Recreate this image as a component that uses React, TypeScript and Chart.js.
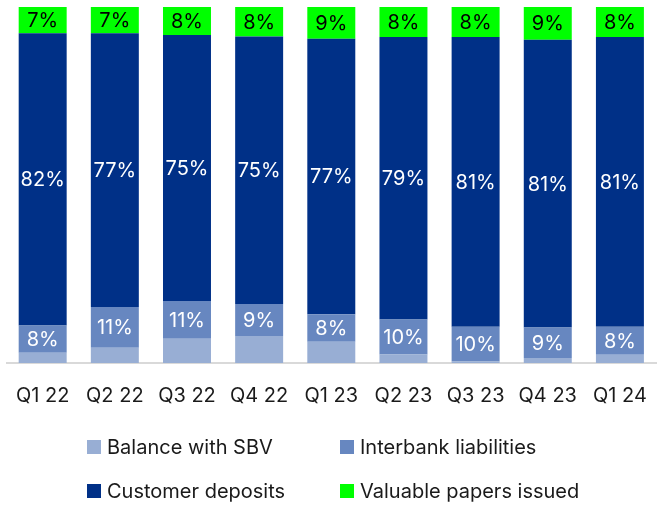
import React, { useEffect, useRef } from "react";
import { Chart, registerables } from "chart.js";

Chart.register(...registerables);

const categories = ["Q1 22", "Q2 22", "Q3 22", "Q4 22", "Q1 23", "Q2 23", "Q3 23", "Q4 23", "Q1 24"];
const balanceWithSBV = [2.9, 4.3, 6.8, 7.6, 6.0, 2.4, 0.4, 1.4, 2.3];
const interbankLiabilities = [7.6, 11.4, 10.6, 9.0, 7.7, 9.8, 9.8, 8.6, 7.9];
const customerDeposits = [82.1, 76.9, 74.7, 75.1, 77.4, 79.4, 81.4, 80.8, 81.4];
const valuablePapers = [7.4, 7.4, 7.9, 8.3, 8.9, 8.4, 8.4, 9.2, 8.4];

const seriesNames = ["Balance with SBV", "Interbank liabilities", "Customer deposits", "Valuable papers issued"];
const seriesColors = ["#98AED4", "#6787C0", "#003087", "#00FF00"];
const labelColors = [null, "#ffffff", "#ffffff", "#000000"];

const FONT = "Inter, 'Noto Sans', sans-serif";

const labelPlugin = {
  id: "segLabels",
  afterDatasetsDraw(chart: any) {
    const ctx = chart.ctx;
    ctx.save();
    ctx.font = `400 20px ${FONT}`;
    ctx.textAlign = "center";
    ctx.textBaseline = "middle";
    chart.data.datasets.forEach((ds: any, di: number) => {
      const color = labelColors[di];
      if (!color) return;
      const meta = chart.getDatasetMeta(di);
      meta.data.forEach((bar: any, i: number) => {
        const v = ds.data[i];
        const props = bar.getProps(["x", "y", "base"], true);
        ctx.fillStyle = color;
        ctx.fillText(Math.round(v) + "%", props.x, (props.y + props.base) / 2 + 1);
      });
    });
    ctx.restore();
  },
};

export default function App() {
  const ref = useRef<HTMLCanvasElement>(null);
  useEffect(() => {
    const chart = new Chart(ref.current!, {
      type: "bar",
      data: {
        labels: categories,
        datasets: [balanceWithSBV, interbankLiabilities, customerDeposits, valuablePapers].map((d, i) => ({
          label: seriesNames[i],
          data: d,
          backgroundColor: seriesColors[i],
          borderWidth: 0,
          categoryPercentage: 1,
          barPercentage: 0.665,
        })),
      },
      options: {
        animation: false,
        responsive: false,
        maintainAspectRatio: false,
        layout: { padding: { left: 6.6, right: 5, top: 7, bottom: 79 } },
        plugins: { legend: { display: false }, tooltip: { enabled: false } },
        scales: {
          x: {
            stacked: true,
            grid: { display: false, drawTicks: false },
            border: { display: true, color: "#D9D9D9", width: 2 },
            ticks: { color: "#1a1a1a", font: { family: FONT, size: 20 }, padding: 21 },
            afterFit: (scale: any) => {
              scale.paddingLeft = 0;
              scale.paddingRight = 0;
            },
          },
          y: { stacked: true, display: false, min: 0, max: 100 },
        },
      },
      plugins: [labelPlugin],
    });
    return () => chart.destroy();
  }, []);

  const legendPos = [
    { left: 87, top: 440 },
    { left: 340, top: 440 },
    { left: 87, top: 484 },
    { left: 340, top: 484 },
  ];

  return (
    <div style={{ position: "fixed", left: 0, top: 0, width: 661, height: 508, background: "#fff" }}>
      <canvas ref={ref} width={661} height={508} style={{ position: "absolute", left: 0, top: 0 }} />
      {seriesNames.map((n, i) => (
        <div
          key={n}
          style={{
            position: "absolute",
            left: legendPos[i].left,
            top: legendPos[i].top,
            display: "flex",
            alignItems: "center",
            fontFamily: FONT,
            fontSize: 20,
            color: "#1a1a1a",
            lineHeight: "14px",
            whiteSpace: "nowrap",
          }}
        >
          <span style={{ width: 14, height: 14, background: seriesColors[i], display: "inline-block", marginRight: 6 }} />
          <span>{n}</span>
        </div>
      ))}
    </div>
  );
}
